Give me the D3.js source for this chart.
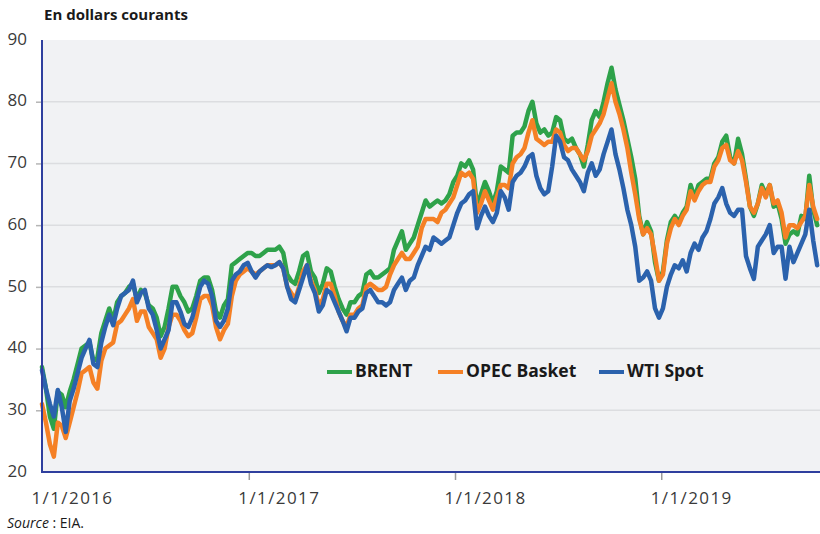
<!DOCTYPE html>
<html>
<head>
<meta charset="utf-8">
<script src="https://cdn.jsdelivr.net/npm/d3@7"></script>
<style>
  body { margin: 0; background: #fff; }
  text { font-family: "Open Sans", sans-serif; }
</style>
</head>
<body>
<script>
// weekly prices, USD per barrel, starting 1/1/2016
var startDate = new Date(2016, 0, 1);

var brent = [
  37.0, 33.5, 29.0, 27.0, 33.0, 32.5, 30.5, 33.0, 35.0, 37.5, 40.0, 40.5, 41.0, 38.0, 38.5, 42.5, 44.5, 46.5, 44.5, 47.5, 48.5, 49.0, 50.0, 50.5, 48.0, 49.5, 49.0, 47.0, 46.5, 45.0, 42.0, 43.5, 46.5, 50.0, 50.0, 48.5, 47.5, 46.0, 46.5, 48.5, 51.0, 51.5, 51.5, 49.5, 46.0, 45.0, 47.0, 48.0, 53.5, 54.0, 54.5, 55.0, 55.5,
  55.5, 55.0, 55.0, 55.5, 56.0, 56.0, 56.0, 56.5, 55.5, 52.0, 51.0, 50.5, 52.5, 55.0, 55.5, 52.5, 51.5, 49.0, 50.5, 53.0, 52.5, 50.0, 48.0, 46.5, 45.5, 47.5, 47.5, 48.5, 49.0, 52.0, 52.5, 51.5, 51.5, 52.0, 52.5, 53.0, 56.0, 57.5, 59.0, 56.0, 57.0, 58.0, 60.0, 62.0, 64.0, 63.0, 63.5, 64.0, 63.5, 64.0, 65.0, 67.0,
  68.0, 70.0, 69.5, 70.5, 69.0, 63.0, 65.0, 67.0, 65.5, 63.5, 65.5, 69.5, 69.0, 68.5, 74.5, 75.0, 75.0, 76.0, 78.5, 80.0, 76.5, 75.0, 75.5, 74.5, 75.0, 77.5, 77.0, 74.0, 73.5, 74.0, 72.5, 71.5, 69.5, 73.0, 77.0, 78.5, 77.5, 80.0, 83.0, 85.5, 82.0, 79.5, 77.0, 74.0, 71.0, 67.5, 61.5, 58.5, 60.5, 59.0, 54.0, 51.0,
  52.5, 57.5, 60.5, 61.5, 60.5, 62.0, 63.0, 66.5, 64.5, 66.5, 67.0, 67.5, 67.5, 70.0, 71.0, 73.5, 74.5, 71.0, 70.0, 74.0, 71.5, 67.5, 63.0, 61.5, 63.5, 66.5, 65.0, 66.5, 63.0, 63.5, 61.0, 57.0, 58.5, 59.0, 58.5, 61.5, 61.0, 68.0, 62.5, 60.0
];

var opec = [
  31.0, 28.0, 24.5, 22.5, 28.0, 27.5, 25.5, 28.0, 30.5, 33.0, 36.0, 36.5, 37.0, 34.5, 33.5, 38.0, 40.0, 40.5, 41.0, 44.0, 44.5, 45.5, 46.5, 48.0, 44.5, 46.0, 46.0, 43.5, 42.5, 41.5, 38.5, 40.0, 43.5, 45.5, 45.5, 44.5, 43.0, 42.0, 42.5, 45.0, 48.0, 48.5, 48.5, 47.0, 43.5, 41.5, 43.0, 44.0, 48.5, 51.0, 52.0, 52.5, 53.0,
  52.5, 52.0, 52.5, 53.0, 53.5, 53.5, 53.5, 54.0, 53.0, 50.0, 49.0, 48.0, 50.0, 52.5, 53.5, 51.0, 49.5, 47.0, 48.0, 50.5, 50.5, 48.5, 46.0, 44.5, 43.5, 45.5, 45.5, 46.5, 47.0, 50.0, 50.5, 50.0, 49.5, 49.5, 50.0, 52.0, 53.5, 54.5, 55.5, 54.5, 54.5, 55.5, 56.5, 59.5, 61.0, 61.0, 61.0, 60.5, 62.0, 62.5, 63.5, 64.5,
  66.5, 68.5, 68.0, 68.5, 67.5, 62.0, 63.5, 65.5, 64.0, 62.5, 64.5, 66.5, 66.5, 66.0, 70.0, 71.0, 71.5, 72.5, 75.0, 77.0, 74.0, 73.5, 73.0, 73.5, 73.5, 75.5, 75.0, 73.0, 72.0, 72.5, 72.5, 71.5, 70.5, 72.0, 74.5, 75.5, 76.5, 78.0, 80.5, 83.0, 80.0, 78.0, 75.5, 72.5, 68.5, 65.0, 61.0, 58.5, 59.5, 58.5, 55.0, 51.0,
  52.0, 57.0, 59.5, 61.0, 60.0, 61.5, 62.5, 65.5, 64.0, 65.5, 66.5, 67.0, 67.0, 69.5, 70.5, 72.5, 73.0, 70.5, 70.0, 72.0, 70.5, 67.0, 63.0, 62.0, 63.5, 66.0, 64.5, 66.5, 63.5, 64.0, 62.0, 58.0, 60.0, 60.0, 59.5, 60.5, 61.5, 66.5, 63.0, 61.0
];

var wti = [
  36.5, 33.5, 31.0, 29.0, 33.3, 30.5, 26.5, 31.5, 33.5, 36.0, 38.5, 40.0, 41.4, 37.5, 37.0, 41.0, 43.5, 45.5, 43.8, 46.5, 48.5, 49.0, 49.5, 51.0, 47.5, 49.0, 49.5, 46.5, 45.5, 43.0, 40.0, 41.5, 43.0, 47.5, 47.5, 46.0, 44.0, 43.5, 45.0, 47.5, 50.0, 51.0, 50.5, 48.5, 44.5, 43.5, 44.5, 46.5, 51.0, 52.0, 52.5, 53.5, 53.9,
  52.5, 51.5, 52.5, 53.0, 53.5, 53.2, 53.5, 54.0, 53.0, 50.0, 48.0, 47.5, 49.5, 51.5, 53.5, 50.5, 49.0, 46.0, 47.0, 49.5, 49.0, 47.5, 46.0, 44.5, 42.8, 45.0, 45.0, 46.0, 46.5, 49.0, 49.5, 48.5, 47.5, 47.5, 47.0, 47.5, 49.5, 50.5, 51.5, 49.5, 51.0, 51.5, 53.5, 55.0, 56.5, 56.0, 58.0, 57.5, 57.0, 57.5, 58.0, 60.0,
  62.0, 63.5, 64.0, 65.0, 65.5, 59.5, 61.5, 63.0, 61.5, 60.5, 62.0, 65.5, 64.5, 62.5, 67.0, 68.0, 68.5, 69.5, 71.0, 71.5, 68.0, 66.0, 65.0, 65.5, 69.5, 74.5, 73.5, 71.0, 70.5, 69.0, 68.0, 67.0, 65.5, 68.5, 70.0, 68.0, 69.0, 71.5, 73.5, 75.5, 71.5, 69.0, 66.0, 62.5, 60.0, 56.5, 51.0, 51.5, 52.5, 51.0, 46.5, 45.0,
  46.5, 50.0, 52.0, 53.5, 53.0, 54.3, 52.5, 55.5, 57.0, 56.0, 58.0, 59.0, 61.0, 63.5, 64.5, 66.0, 63.5, 62.0, 61.5, 62.5, 62.5, 55.0, 53.0, 51.3, 56.5, 57.5, 58.5, 60.0, 55.5, 56.5, 56.5, 51.3, 56.5, 54.0, 55.5, 57.0, 58.5, 62.5, 57.5, 53.5
];

var seriesNames = ['BRENT', 'OPEC Basket', 'WTI Spot'];
var seriesColors = ['#2ea24a', '#f58025', '#2b62ad'];
var yTicks = [20, 30, 40, 50, 60, 70, 80, 90];
var xTicks = [new Date(2016, 0, 1), new Date(2017, 0, 1), new Date(2018, 0, 1), new Date(2019, 0, 1)];

var W = 820, H = 534;
var m = {left: 42, right: 820, top: 40, bottom: 472};

var svg = d3.select('body').append('svg')
  .attr('width', W)
  .attr('height', H);

var x = d3.scaleTime()
  .domain([new Date(2016, 0, 1), new Date(2019, 9, 9)])
  .range([m.left, m.right]);

var y = d3.scaleLinear()
  .domain([20, 90])
  .range([m.bottom, m.top]);

// plot background
svg.append('rect')
  .attr('x', m.left)
  .attr('y', m.top)
  .attr('width', m.right - m.left)
  .attr('height', m.bottom - m.top)
  .attr('fill', '#f1f2f4');

// grid
svg.append('g').selectAll('line')
  .data(yTicks.slice(1, -1))
  .enter().append('line')
  .attr('x1', m.left)
  .attr('x2', m.right)
  .attr('y1', function(d){ return y(d); })
  .attr('y2', function(d){ return y(d); })
  .attr('stroke', '#dcdde0')
  .attr('stroke-width', 1.5);

// y axis
var yAxis = svg.append('g')
  .attr('transform', 'translate(' + m.left + ',0)')
  .call(d3.axisLeft(y).tickValues(yTicks).tickSize(6).tickPadding(9));
yAxis.select('.domain').remove();
yAxis.selectAll('.tick line').attr('stroke', '#b5b5b5').attr('stroke-width', 1.5);
yAxis.selectAll('.tick text')
  .attr('fill', '#3a3a3a')
  .attr('dy', '0.25em')
  .style('font-size', '17px')
  .style('font-family', '"Open Sans", sans-serif');
yAxis.selectAll('.tick').filter(function(d){ return d === 90 || d === 20; }).select('line').remove();

// x axis
var xAxis = svg.append('g')
  .attr('transform', 'translate(0,' + m.bottom + ')')
  .call(d3.axisBottom(x).tickValues(xTicks).tickSize(8).tickPadding(12).tickFormat(d3.timeFormat('%-m/%-d/%Y')));
xAxis.select('.domain').remove();
xAxis.selectAll('.tick line').attr('stroke', '#9a9a9a').attr('stroke-width', 1.5);
xAxis.selectAll('.tick').filter(function(d, i){ return i === 0; }).select('line').remove();
xAxis.selectAll('.tick text')
  .attr('fill', '#3a3a3a')
  .attr('text-anchor', 'start')
  .attr('x', -11)
  .attr('dy', '0.71em')
  .style('font-size', '17px')
  .style('letter-spacing', '1.4px')
  .style('font-family', '"Open Sans", sans-serif');

// lines
var dates = wti.map(function(d, i){ return d3.timeDay.offset(startDate, i * 7); });
var line = d3.line()
  .x(function(d){ return x(d.date); })
  .y(function(d){ return y(d.value); });

[brent, opec, wti].forEach(function(values, k){
  var pts = values.map(function(v, i){ return {date: dates[i], value: v}; });
  svg.append('path')
    .datum(pts)
    .attr('fill', 'none')
    .attr('stroke', seriesColors[k])
    .attr('stroke-width', 4.5)
    .attr('stroke-linejoin', 'round')
    .attr('stroke-linecap', 'round')
    .attr('d', line);
});

// axis lines
svg.append('line')
  .attr('x1', m.left).attr('x2', m.left)
  .attr('y1', m.top).attr('y2', m.bottom + 1)
  .attr('stroke', '#2f3f9e').attr('stroke-width', 2);
svg.append('line')
  .attr('x1', m.left - 1).attr('x2', m.right)
  .attr('y1', m.bottom).attr('y2', m.bottom)
  .attr('stroke', '#2f3f9e').attr('stroke-width', 2);

// legend
var legendX = [327, 438, 599];
var legend = svg.append('g').selectAll('g')
  .data(seriesNames)
  .enter().append('g')
  .attr('transform', function(d, i){ return 'translate(' + legendX[i] + ',372)'; });
legend.append('line')
  .attr('x1', 0).attr('x2', 25)
  .attr('stroke', function(d, i){ return seriesColors[i]; })
  .attr('stroke-width', 4);
legend.append('text')
  .attr('x', 28)
  .attr('y', 5)
  .attr('fill', '#1a1a1a')
  .style('font-size', '17.5px')
  .style('font-weight', 'bold')
  .text(function(d){ return d; });

// title
svg.append('text')
  .attr('x', 44)
  .attr('y', 20)
  .attr('fill', '#1a1a1a')
  .style('font-size', '15px')
  .style('font-weight', 'bold')
  .text('En dollars courants');

// source
var src = svg.append('text')
  .attr('x', 7)
  .attr('y', 528)
  .attr('fill', '#1a1a1a')
  .style('font-size', '14px');
src.append('tspan').style('font-style', 'italic').text('Source');
src.append('tspan').text(' : EIA.');
</script>
</body>
</html>
